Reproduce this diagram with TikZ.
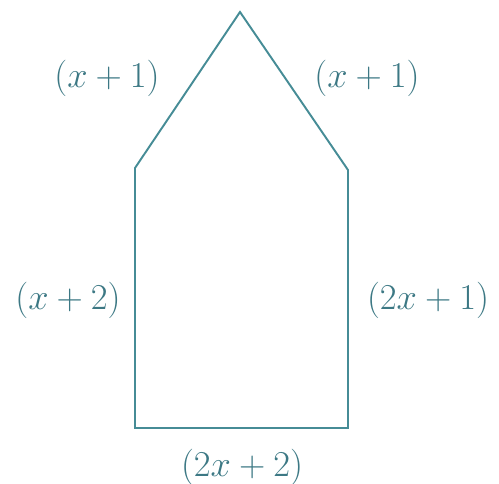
\documentclass[tikz,border=0pt]{standalone}
\usepackage{amsmath}
\usepackage{tikz}
\usetikzlibrary{positioning, calc}

\definecolor{edgeteal}{RGB}{70,140,150}
\definecolor{labteal}{RGB}{60,120,132}

\begin{document}
\begin{tikzpicture}[
			side/.style={draw=edgeteal, line width=1.1pt, line join=miter},
			lab/.style={text=labteal, font=\fontsize{20}{22}\selectfont, inner sep=0pt},
			]
			\useasboundingbox (0,0) rectangle (9.98,9.68);
			
			% Corners
			\coordinate (apex) at (4.80,9.44);
			\coordinate (ul) at (2.70,6.32);
			\coordinate (ur) at (6.96,6.28);
			\coordinate (bl) at (2.70,1.12);
			\coordinate (br) at (6.96,1.12);
			
			% Pentagon
			\draw[side] (apex) -- (ur) -- (br) -- (bl) -- (ul) -- cycle;
			
			% Side lengths
			\node[lab] (roofl) at (2.14,8.12) {$(x+1)$};
			\node[lab] (roofr) at (7.34,8.12) {$(x+1)$};
			\node[lab] (wall) at (1.36,3.68) {$(x+2)$};
			\node[lab] (wallr) at (8.56,3.68) {$(2x+1)$};
			\node[lab] (floor) at (4.84,0.34) {$(2x+2)$};
		\end{tikzpicture}
\end{document}
